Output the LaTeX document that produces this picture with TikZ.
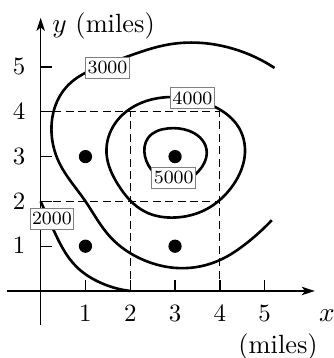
\documentclass[tikz,border=0pt]{standalone}
\usetikzlibrary{arrows.meta,hobby}
\begin{document}
\begin{tikzpicture}[x=18pt,y=18pt,
  contour/.style={line width=1.05pt, use Hobby shortcut},
  axisline/.style={line width=0.55pt, -{Stealth[length=5.3pt,width=3.4pt,inset=1.4pt]}},
  ticklabel/.style={anchor=base, inner sep=0pt},
  axistitle/.style={inner sep=0pt, font=\fontsize{10.6}{12.7}\selectfont},
  guide/.style={line width=0.5pt, dash pattern=on 3.2pt off 1.8pt},
  levellabel/.style={draw=gray, line width=0.4pt, fill=white, inner xsep=0.8pt, inner ysep=1.6pt, font=\fontsize{7.5}{9}\selectfont},
  spot/.style={fill=black}]
\useasboundingbox (-0.908,-1.496) rectangle (6.547,6.496);
% guide lines
\draw[guide] (0,4) -- (4,4);
\draw[guide] (0,2) -- (4,2);
\draw[guide] (2,0) -- (2,4);
\draw[guide] (4,0) -- (4,4);
% axes
\draw[axisline] (-0.76,0) -- (6.12,0);
\draw[axisline] (0,-0.76) -- (0,6.10);
\foreach \k in {1,...,5} {
  \draw[line width=0.55pt] (\k,0) -- (\k,0.25);
  \draw[line width=0.55pt] (0,\k) -- (0.26,\k);
  \node[ticklabel] (xl\k) at (\k,-0.685) {\k};
  \node[ticklabel] (yl\k) at (-0.48,\k-0.17) {\k};
}
\node[axistitle, anchor=base west] (ylab) at (0.25,5.77) {$y$ (miles)};
\node[axistitle, anchor=base] (xlab) at (6.39,-0.685) {$x$};
\node[axistitle, anchor=base] (xunit) at (5.30,-1.39) {(miles)};
% contours
\draw[contour] (5.22,4.98) .. (4.14,5.45) .. (2.9,5.51) .. (1.65,5.13) .. (0.58,4.56) .. (0.24,3.6) .. (0.42,2.85) .. (0.98,2.03) .. (1.55,1.21) .. (2.3,0.69) .. (3.1,0.51) .. (4.0,0.69) .. (4.6,1.07) .. (5.16,1.58);
\draw[contour, closed=true] (3.89,4.11) .. (4.41,3.67) .. (4.56,3.07) .. (4.30,2.37) .. (3.67,1.81) .. (3.0,1.64) .. (2.33,1.77) .. (1.73,2.37) .. (1.47,3.07) .. (1.66,3.74) .. (2.2,4.18) .. (2.9,4.33);
\draw[contour, closed=true] (3.53,2.68) .. (3.70,3.17) .. (3.30,3.58) .. (2.85,3.63) .. (2.40,3.42) .. (2.33,3.0) .. (2.55,2.62) .. (3.0,2.42);
\draw[contour] (0.0,2.0) .. (0.27,1.40) .. (0.80,0.54) .. (1.24,0.23) .. (2.0,0.0);
% spots
\foreach \px/\py in {1/1,1/3,3/1,3/3} \fill[spot] (\px,\py) circle (0.148);
% level labels
\node[levellabel] (c3000) at (1.49,4.98) {3000};
\node[levellabel] (c4000) at (3.39,4.31) {4000};
\node[levellabel] (c5000) at (2.97,2.53) {5000};
\node[levellabel] (c2000) at (0.25,1.61) {2000};
\end{tikzpicture}
\end{document}
